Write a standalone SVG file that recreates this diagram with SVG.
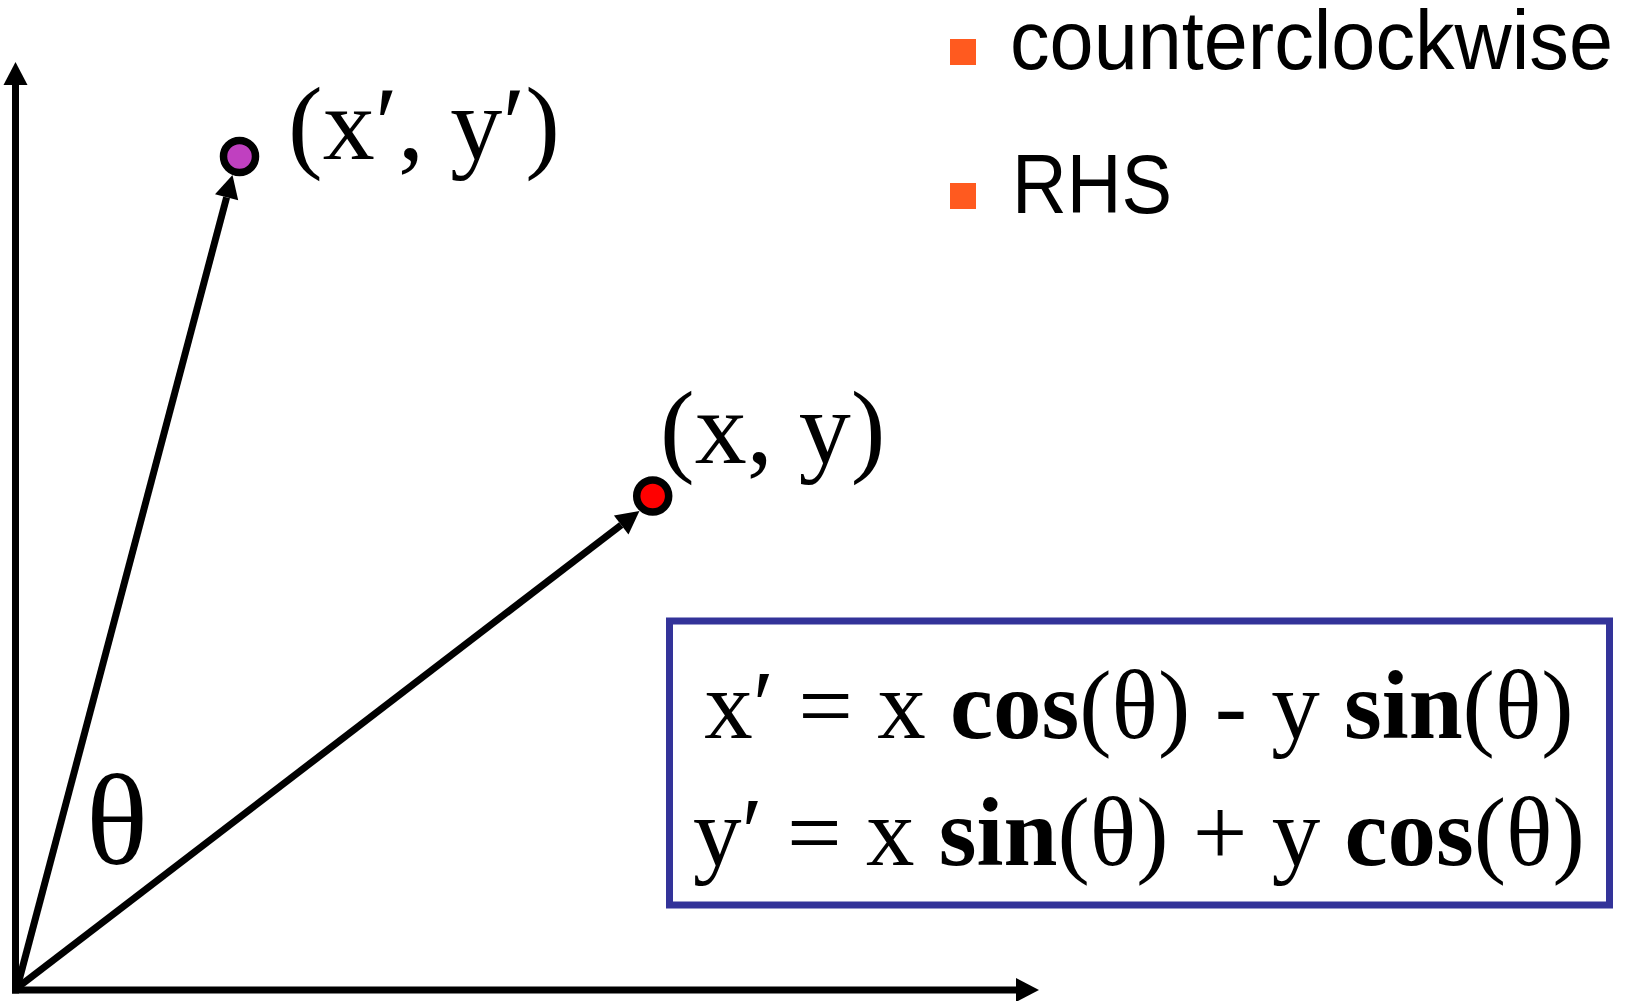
<svg xmlns="http://www.w3.org/2000/svg" width="1626" height="1001" viewBox="0 0 1626 1001">
<style>
.ax{stroke:#000;stroke-width:7;fill:none}
.serif{font-family:"Liberation Serif","Times New Roman","DejaVu Serif",serif;fill:#000}
.sans{font-family:"Liberation Sans",Arial,"DejaVu Sans",sans-serif;fill:#000}
.b{font-weight:bold}
.dot{stroke:#000;stroke-width:7.5}
.bul{fill:#FF5A1F}
</style>
<defs>
<marker id="ah" markerUnits="userSpaceOnUse" markerWidth="23" markerHeight="24" viewBox="0 0 23 24" refX="0" refY="12" orient="auto" overflow="visible">
<path d="M0,0 L23,12 L0,24 Z" fill="#000"/>
</marker>
</defs>
<rect width="1626" height="1001" fill="#fff"/>
<g id="connectors">
<line class="ax" x1="15.5" y1="993.5" x2="15.5" y2="85" marker-end="url(#ah)"/>
<line class="ax" x1="12" y1="990" x2="1016" y2="990" marker-end="url(#ah)"/>
<line class="ax" x1="17" y1="988" x2="226.6" y2="197.3" marker-end="url(#ah)"/>
<line class="ax" x1="17" y1="988" x2="621.2" y2="525" marker-end="url(#ah)"/>
</g>
<g id="point-rotated">
<circle class="dot" cx="239.5" cy="156.5" r="16" fill="#C040C0"/>
<text class="serif" x="288" y="159" font-size="104" textLength="272" lengthAdjust="spacing">(x′, y′)</text>
</g>
<g id="point-original">
<circle class="dot" cx="652.7" cy="496" r="16" fill="#FF0000"/>
<text class="serif" x="660" y="463" font-size="104">(x, y)</text>
</g>
<g id="angle">
<text class="serif" x="86" y="864" font-size="130" textLength="62" lengthAdjust="spacingAndGlyphs">θ</text>
</g>
<g id="bullets">
<rect class="bul" x="950" y="39" width="26" height="26"/>
<text class="sans" x="1010" y="69" font-size="83" textLength="603" lengthAdjust="spacingAndGlyphs">counterclockwise</text>
<rect class="bul" x="950" y="183" width="26" height="26"/>
<text class="sans" x="1012" y="213" font-size="83" textLength="160" lengthAdjust="spacingAndGlyphs">RHS</text>
</g>
<g id="formula-box">
<rect x="669.5" y="621" width="940" height="284" fill="none" stroke="#333399" stroke-width="7"/>
<text class="serif" x="1139" y="738" font-size="97" text-anchor="middle">x′ = x <tspan class="b">cos</tspan>(θ) - y <tspan class="b">sin</tspan>(θ)</text>
<text class="serif" x="1139" y="865" font-size="97" text-anchor="middle">y′ = x <tspan class="b">sin</tspan>(θ) + y <tspan class="b">cos</tspan>(θ)</text>
</g>
</svg>
